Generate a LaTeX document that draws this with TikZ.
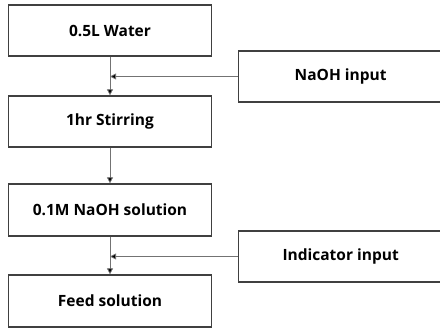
\documentclass[tikz,border=0pt]{standalone}
\usepackage{fontspec}
\setmainfont{Open Sans}
\usetikzlibrary{arrows.meta}
\begin{document}
\begin{tikzpicture}[x=1pt,y=-1pt,
  box/.style={draw=black!75,line width=1.3pt,rectangle,inner sep=0pt,font=\bfseries\fontsize{15.5}{18}\selectfont},
  conn/.style={draw=black!55,line width=0.8pt,-{Triangle[length=6pt,width=6pt,fill=black]}}]
\useasboundingbox (0,0) rectangle (440,328);
\clip (0,0) rectangle (440,328);
\node[box,minimum width=203pt,minimum height=51pt] (w) at (110,30.5) {0.5L Water};
\node[box,minimum width=203pt,minimum height=51pt] (s) at (110,121.5) {1hr Stirring};
\node[box,minimum width=203pt,minimum height=52pt] (n) at (110,210) {0.1M NaOH solution};
\node[box,minimum width=208pt,minimum height=51pt,anchor=west] (ni) at (238,76.5) {\hspace*{-4pt}NaOH input};
\node[box,minimum width=208pt,minimum height=51pt,anchor=west] (ii) at (238,256.5) {\hspace*{-4pt}Indicator input};
\node[box,minimum width=203pt,minimum height=52pt] (f) at (110,301) {Feed solution};
\coordinate (j1) at (w.south |- ni.west);
\coordinate (j2) at (n.south |- ii.west);
\draw[conn] (w.south) -- (s.north);
\draw[conn] (s.south) -- (n.north);
\draw[conn] (n.south) -- (f.north);
\draw[conn] (ni.west) -- (j1);
\draw[conn] (ii.west) -- (j2);
\end{tikzpicture}
\end{document}
